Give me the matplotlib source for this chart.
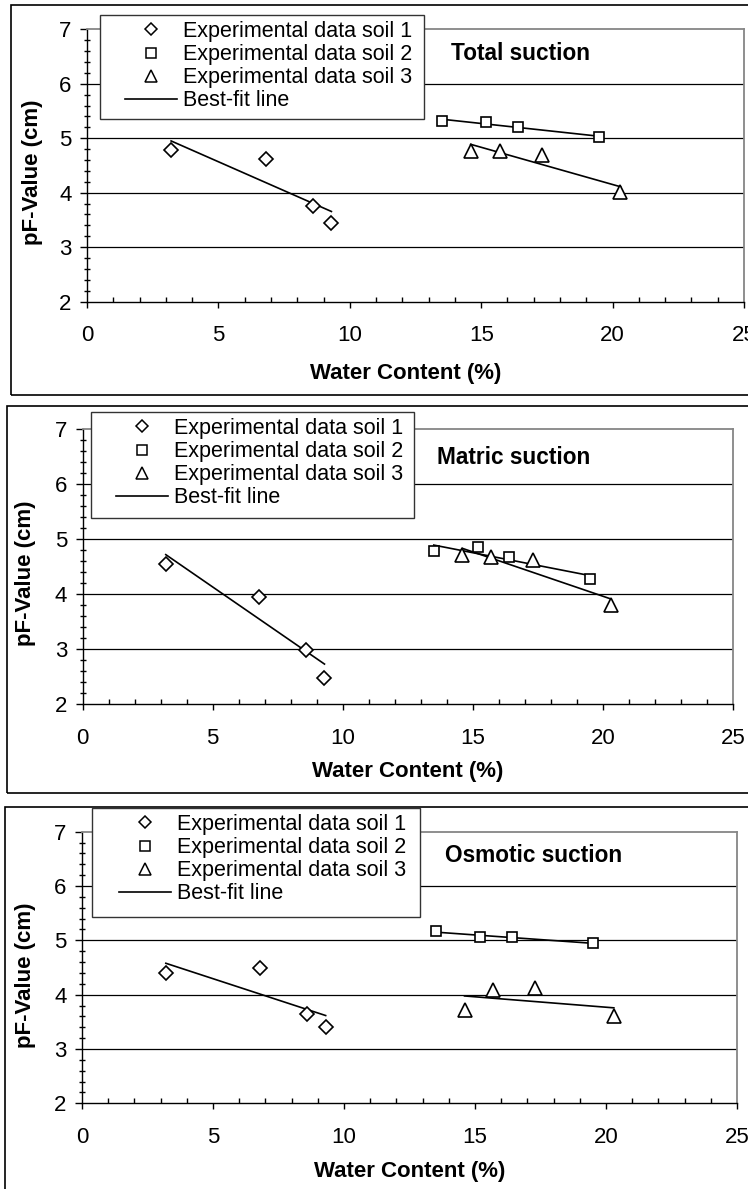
import numpy as np
import matplotlib
matplotlib.use("Agg")
import matplotlib.pyplot as plt
from matplotlib.patches import Rectangle
from matplotlib.lines import Line2D
from matplotlib.ticker import MultipleLocator

plt.rcParams['font.family'] = ['Liberation Sans', 'DejaVu Sans']

# ---------------- data ----------------
panel_titles = ["Total suction", "Matric suction", "Osmotic suction"]
series_labels = ["Experimental data soil 1", "Experimental data soil 2",
                 "Experimental data soil 3", "Best-fit line"]

soil1_x = [3.2, 6.8, 8.6, 9.3]
soil2_x = [13.5, 15.2, 16.4, 19.5]
soil3_x = [14.6, 15.7, 17.3, 20.3]

total_soil1 = [4.78, 4.61, 3.76, 3.44]
total_soil2 = [5.32, 5.29, 5.21, 5.02]
total_soil3 = [4.77, 4.77, 4.69, 4.02]

matric_soil1 = [4.55, 3.96, 2.98, 2.47]
matric_soil2 = [4.78, 4.86, 4.68, 4.28]
matric_soil3 = [4.71, 4.67, 4.62, 3.81]

osmotic_soil1 = [4.39, 4.49, 3.65, 3.40]
osmotic_soil2 = [5.17, 5.06, 5.06, 4.95]
osmotic_soil3 = [3.72, 4.09, 4.12, 3.61]

x_ticks = [0, 5, 10, 15, 20, 25]
y_ticks = [2, 3, 4, 5, 6, 7]

panels_y = [
    (total_soil1, total_soil2, total_soil3),
    (matric_soil1, matric_soil2, matric_soil3),
    (osmotic_soil1, osmotic_soil2, osmotic_soil3),
]

# ---------------- layout (pixels) ----------------
W, H = 748, 1189
fig = plt.figure(figsize=(W / 100, H / 100), dpi=100)

def fx(px):
    return px / W

def fy(py):
    return 1 - py / H

# axes: left, right, top, bottom (px)
ax_px = [(87, 744, 29.3, 301.5), (82.5, 733, 429.3, 704.3), (82, 737, 831.7, 1103.3)]
frame_px = [(11, 760, 5, 395), (7, 760, 406, 793), (5, 760, 807, 1200)]
legend_box_px = [(100, 424, 15, 119), (91, 414, 412, 518), (92, 420, 808, 917)]
legend_anchor_px = [(125, 21), (116, 418), (119, 814)]
title_px = [(451, 53), (437, 457), (445, 856)]
xlabel_px = [(406, 373), (408, 772), (410, 1171)]
ylabel_px = [(33, 172), (26, 573), (26, 975)]

markers = ['D', 's', '^']
msizes = [7.5, 7.5, 10]

for i in range(3):
    l, r, t, b = ax_px[i]
    ax = fig.add_axes([fx(l), fy(b), fx(r) - fx(l), fy(t) - fy(b)])
    ax.set_xlim(0, 25)
    ax.set_ylim(2, 7)
    ax.set_xticks(x_ticks)
    ax.set_yticks(y_ticks)
    ax.xaxis.set_minor_locator(MultipleLocator(1))
    ax.yaxis.set_minor_locator(MultipleLocator(0.2))
    ax.tick_params(axis='x', which='major', direction='out', length=4, width=1,
                   pad=13, labelsize=16)
    ax.tick_params(axis='x', which='minor', direction='in', length=3.5, width=1)
    ax.tick_params(axis='y', which='major', direction='out', length=5, width=1,
                   pad=6, labelsize=16)
    ax.tick_params(axis='y', which='minor', direction='inout', length=5, width=1)
    for s in ['top', 'right']:
        ax.spines[s].set_color('#868686')
        ax.spines[s].set_linewidth(1.3)
    for s in ['left', 'bottom']:
        ax.spines[s].set_color('black')
        ax.spines[s].set_linewidth(1.0)
    for yv in y_ticks[1:-1]:
        ax.axhline(yv, color='black', lw=0.9, zorder=1)

    xs_list = [soil1_x, soil2_x, soil3_x]
    ys_list = panels_y[i]
    for k in range(3):
        xs = np.array(xs_list[k])
        ys = np.array(ys_list[k])
        ax.plot(xs, ys, linestyle='none', marker=markers[k], markersize=msizes[k],
                markerfacecolor='white', markeredgecolor='black',
                markeredgewidth=1.2, zorder=3)
        coef = np.polyfit(xs, ys, 1)
        xl = np.array([xs.min(), xs.max()])
        ax.plot(xl, np.polyval(coef, xl), color='black', lw=1.2, zorder=2)

    ax.set_xlabel("Water Content (%)", fontsize=16, fontweight='bold', va='center')
    ax.xaxis.set_label_coords((xlabel_px[i][0] - l) / (r - l),
                              (b - xlabel_px[i][1]) / (b - t))
    ax.set_ylabel("pF-Value (cm)", fontsize=16, fontweight='bold', va='center')
    ax.yaxis.set_label_coords((ylabel_px[i][0] - l) / (r - l),
                              (b - ylabel_px[i][1]) / (b - t))

    fig.text(fx(title_px[i][0]), fy(title_px[i][1]), panel_titles[i],
             fontsize=16.3, fontweight='bold', ha='left', va='center')

    # outer frame
    fl, fr, ft, fb = frame_px[i]
    fig.patches.append(Rectangle((fx(fl), fy(fb)), fx(fr) - fx(fl), fy(ft) - fy(fb),
                                 transform=fig.transFigure, fill=False,
                                 edgecolor='black', lw=1.2, zorder=4))
    # legend box
    ll, lr, lt, lb = legend_box_px[i]
    fig.patches.append(Rectangle((fx(ll), fy(lb)), fx(lr) - fx(ll), fy(lt) - fy(lb),
                                 transform=fig.transFigure, facecolor='white',
                                 edgecolor='#333333', lw=1.0, zorder=5))
    handles = [Line2D([], [], linestyle='none', marker=markers[k], markersize=msizes[k] - 1,
                      markerfacecolor='white', markeredgecolor='black',
                      markeredgewidth=1.1) for k in range(3)]
    handles.append(Line2D([], [], color='black', lw=1.2))
    leg = fig.legend(handles, series_labels, loc='upper left',
                     bbox_to_anchor=(fx(legend_anchor_px[i][0]), fy(legend_anchor_px[i][1])),
                     bbox_transform=fig.transFigure, frameon=False, fontsize=15.5,
                     handlelength=2.4, handletextpad=0.3, labelspacing=0.1,
                     borderpad=0, borderaxespad=0, numpoints=1)
    leg.set_zorder(6)

fig.savefig("out.png", dpi=100)
